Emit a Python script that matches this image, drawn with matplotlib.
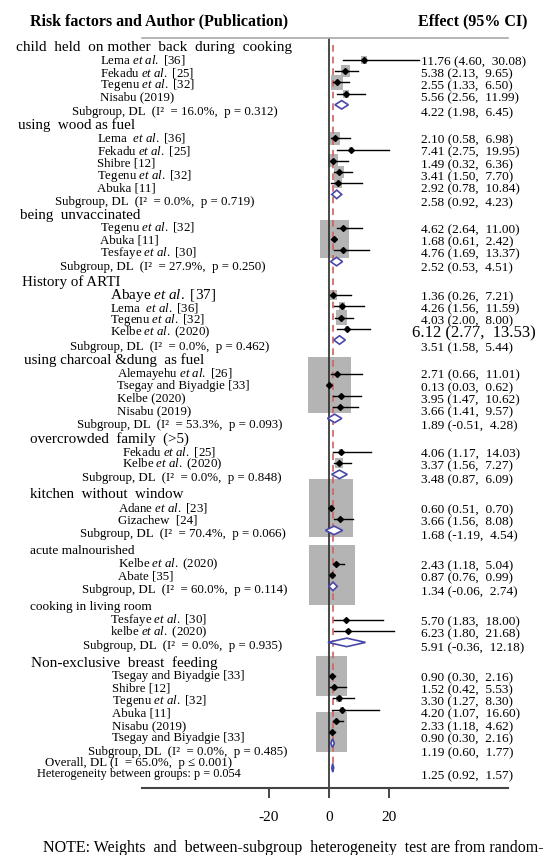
import matplotlib.pyplot as plt
from matplotlib.patches import Rectangle, Polygon

plt.rcParams['font.family'] = ['Liberation Serif', 'DejaVu Serif']
plt.rcParams['mathtext.fontset'] = 'custom'
plt.rcParams['mathtext.rm'] = 'Liberation Serif'
plt.rcParams['mathtext.it'] = 'Liberation Serif:italic'

ETAL = r'$\mathit{et\ al.}$'

# risk factors (subgroups)
factors = ["child  held  on mother  back  during  cooking", "using  wood as fuel",
           "being  unvaccinated", "History of ARTI", "using charcoal &dung  as fuel",
           "overcrowded  family  (>5)", "kitchen  without  window", "acute malnourished",
           "cooking in living room", "Non-exclusive  breast  feeding"]

# studies
study_factor = [0, 0, 0, 0,
                1, 1, 1, 1, 1,
                2, 2, 2,
                3, 3, 3, 3,
                4, 4, 4, 4,
                5, 5,
                6, 6,
                7, 7,
                8, 8,
                9, 9, 9, 9, 9, 9]
study_label = [f"Lema {ETAL} [36]", f"Fekadu {ETAL} [25]", f"Tegenu {ETAL} [32]", "Nisabu (2019)",
               f"Lema  {ETAL} [36]", f"Fekadu {ETAL} [25]", "Shibre [12]", f"Tegenu {ETAL} [32]", "Abuka [11]",
               f"Tegenu {ETAL} [32]", "Abuka [11]", f"Tesfaye {ETAL} [30]",
               f"Abaye {ETAL} [37]", f"Lema  {ETAL} [36]", f"Tegenu {ETAL} [32]", f"Kelbe {ETAL} (2020)",
               f"Alemayehu {ETAL} [26]", "Tsegay and Biyadgie [33]", "Kelbe (2020)", "Nisabu (2019)",
               f"Fekadu {ETAL} [25]", f"Kelbe {ETAL} (2020)",
               f"Adane {ETAL} [23]", "Gizachew  [24]",
               f"Kelbe {ETAL} (2020)", "Abate [35]",
               f"Tesfaye {ETAL} [30]", f"kelbe {ETAL} (2020)",
               "Tsegay and Biyadgie [33]", "Shibre [12]", f"Tegenu {ETAL} [32]", "Abuka [11]",
               "Nisabu (2019)", "Tsegay and Biyadgie [33]"]
study_or = [11.76, 5.38, 2.55, 5.56,
            2.10, 7.41, 1.49, 3.41, 2.92,
            4.62, 1.68, 4.76,
            1.36, 4.26, 4.03, 6.12,
            2.71, 0.13, 3.95, 3.66,
            4.06, 3.37,
            0.60, 3.66,
            2.43, 0.87,
            5.70, 6.23,
            0.90, 1.52, 3.30, 4.20, 2.33, 0.90]
study_lo = [4.60, 2.13, 1.33, 2.56,
            0.58, 2.75, 0.32, 1.50, 0.78,
            2.64, 0.61, 1.69,
            0.26, 1.56, 2.00, 2.77,
            0.66, 0.03, 1.47, 1.41,
            1.17, 1.56,
            0.51, 1.56,
            1.18, 0.76,
            1.83, 1.80,
            0.30, 0.42, 1.27, 1.07, 1.18, 0.30]
study_hi = [30.08, 9.65, 6.50, 11.99,
            6.98, 19.95, 6.36, 7.70, 10.84,
            11.00, 2.42, 13.37,
            7.21, 11.59, 8.00, 13.53,
            11.01, 0.62, 10.62, 9.57,
            14.03, 7.27,
            0.70, 8.08,
            5.04, 0.99,
            18.00, 21.68,
            2.16, 5.53, 8.30, 16.60, 4.62, 2.16]
study_wt = [1.6, 3.5, 6.3, 1.6,
            4.3, 0.7, 4.3, 4.3, 2.8,
            1.1, 36.5, 0.7,
            2.8, 1.6, 5.3, 0.7,
            0.7, 80.3, 0.7, 0.7,
            0.7, 2.8,
            84.0, 0.7,
            0.7, 91.8,
            0.4, 0.4,
            41.7, 1.1, 1.6, 0.7, 2.8, 41.7]

# subgroup pooled estimates
sub_or = [4.22, 2.58, 2.52, 3.51, 1.89, 3.48, 1.68, 1.34, 5.91, 1.19]
sub_lo = [1.98, 0.92, 0.53, 1.58, -0.51, 0.87, -1.19, -0.06, -0.36, 0.60]
sub_hi = [6.45, 4.23, 4.51, 5.44, 4.28, 6.09, 4.54, 2.74, 12.18, 1.77]
sub_i2 = [16.0, 0.0, 27.9, 0.0, 53.3, 0.0, 70.4, 60.0, 0.0, 0.0]
sub_p = [0.312, 0.719, 0.250, 0.462, 0.093, 0.848, 0.066, 0.114, 0.935, 0.485]

overall_or, overall_lo, overall_hi = 1.25, 0.92, 1.57
overall_i2 = 65.0
het_p = 0.054
xticks = [-20, 0, 20]

# ---- layout (pixels) ----
W, H = 543, 855
ZERO = 329.0      # pixel of effect 0
PPU = 3.0         # pixels per effect unit
STEP = 11.2       # marker row spacing
LSTEP = 12.5      # left label spacing
RSTEP = 12.2      # right column spacing
FIRST = 60.0

def xd(px):
    return (px - ZERO) / PPU

header_x = [16, 18, 20, 21.7, 24, 30, 30, 30, 30, 30.7]
header_fs = [11, 10.8, 10.8, 10.8, 10.8, 10.8, 10.8, 9.6, 9.5, 11]
study_x = [100, 97, 100, 110, 116.7, 122, 118, 118, 110, 111.7]
sub_x = [71.7, 55, 60, 70, 76.7, 81.7, 80, 81.7, 83.3, 88.3]
big_label = {12}
big_value = {15}

fig = plt.figure(figsize=(W / 100, H / 100), dpi=100)
ax_top, ax_bot, ax_l, ax_r = 38.3, 788.3, 141.7, 508.0
ax = fig.add_axes([ax_l / W, 1 - ax_bot / H, (ax_r - ax_l) / W, (ax_bot - ax_top) / H])
ax.set_xlim(xd(ax_l), xd(ax_r))
ax.set_ylim(ax_bot, ax_top)

# row positions
study_y, study_ly, study_ry = [], [], []
sub_y, sub_ly, sub_ry, head_y = [], [], [], []
y = FIRST
for g in range(len(factors)):
    n = study_factor.count(g)
    for i in range(n):
        study_y.append(y + i * STEP)
        study_ly.append(y + i * LSTEP)
        study_ry.append(y + 2 + i * RSTEP)
    sub_y.append(y + n * STEP)
    sub_ly.append(y + n * LSTEP + 1.5)
    sub_ry.append(y + n * RSTEP + 4)
    head_y.append(y - 13)
    y = y + (n + 3) * STEP
overall_y = sub_y[-1] + 2.2 * STEP

# weight boxes
for x, yy, w in zip(study_or, study_y, study_wt):
    side = 4.8 * w ** 0.5
    bw, bh = side / PPU, 1.3 * side
    ax.add_patch(Rectangle((x - bw / 2, yy - bh / 2), bw, bh,
                           facecolor='#b4b4b4', edgecolor='none', zorder=1))

ax.axvline(0, color='#2a2a2a', lw=1.2, zorder=2)
ax.plot([overall_or, overall_or], [45, 772], color='#d06060', lw=1.2,
        dashes=(4, 3), zorder=3)

# study estimates
for x, lo, hi, yy in zip(study_or, study_lo, study_hi, study_y):
    ax.plot([lo, hi], [yy, yy], color='black', lw=1.0, zorder=4)
    ax.plot(x, yy, marker='D', ms=3.0, color='black', zorder=5)

# pooled diamonds
def diamond(est, lo, hi, yy, h=8.5):
    ax.add_patch(Polygon([(lo, yy), (est, yy - h / 2), (hi, yy), (est, yy + h / 2)],
                         closed=True, facecolor='white', edgecolor='#4848a8',
                         lw=1.2, zorder=6))

for est, lo, hi, yy in zip(sub_or, sub_lo, sub_hi, sub_y):
    diamond(est, lo, hi, yy)
diamond(overall_or, overall_lo, overall_hi, overall_y)

# left-hand labels
for g, name in enumerate(factors):
    ax.text(xd(header_x[g]), head_y[g], name, fontsize=header_fs[g],
            ha='left', va='center')
for i, (g, lab, yy) in enumerate(zip(study_factor, study_label, study_ly)):
    ax.text(xd(study_x[g]), yy, lab, fontsize=11 if i in big_label else 9.3,
            ha='left', va='center')
for g, (i2, p, yy) in enumerate(zip(sub_i2, sub_p, sub_ly)):
    ax.text(xd(sub_x[g]), yy,
            f"Subgroup, DL  (I²  = {i2:.1f}%,  p = {p:.3f})",
            fontsize=9.3, ha='left', va='center')
ax.text(xd(45), overall_y - 5, f"Overall, DL (I  = {overall_i2:.1f}%,  p ≤ 0.001)",
        fontsize=9.3, ha='left', va='center')
ax.text(xd(37.3), overall_y + 6.5, f"Heterogeneity between groups: p = {het_p:.3f}",
        fontsize=8.8, ha='left', va='center')

# right-hand effect column
VX = xd(421)
for i, (x, lo, hi, yy) in enumerate(zip(study_or, study_lo, study_hi, study_ry)):
    ax.text(VX - (3 if i in big_value else 0), yy,
            f"{x:.2f} ({lo:.2f},  {hi:.2f})",
            fontsize=12 if i in big_value else 9.5, ha='left', va='center')
for est, lo, hi, yy in zip(sub_or, sub_lo, sub_hi, sub_ry):
    ax.text(VX, yy, f"{est:.2f} ({lo:.2f},  {hi:.2f})", fontsize=9.5,
            ha='left', va='center')
ax.text(VX, overall_y + 8, f"{overall_or:.2f} ({overall_lo:.2f},  {overall_hi:.2f})",
        fontsize=9.5, ha='left', va='center')

# column headers
ax.text(xd(29.6), 21, "Risk factors and Author (Publication)", fontsize=11.5,
        fontweight='bold', ha='left', va='center')
ax.text(xd(418), 21, "Effect (95% CI)", fontsize=11.5, fontweight='bold',
        ha='left', va='center')

# axes styling
for side in ['left', 'right']:
    ax.spines[side].set_visible(False)
ax.spines['top'].set_color('#a8a8a8')
ax.spines['top'].set_linewidth(1.2)
ax.spines['bottom'].set_color('#444444')
ax.spines['bottom'].set_linewidth(1.5)
ax.set_yticks([])
ax.set_xticks(xticks)
ax.set_xticklabels([str(t) for t in xticks])
ax.tick_params(axis='x', direction='out', length=7.2, width=1.4, color='#444444',
               labelsize=11, pad=9)

fig.text(43.3 / W, 1 - 847.7 / H,
         "NOTE: Weights  and  between-subgroup  heterogeneity  test are from random-effects model",
         fontsize=11.5, ha='left', va='center')

fig.savefig('out.png', dpi=100)
